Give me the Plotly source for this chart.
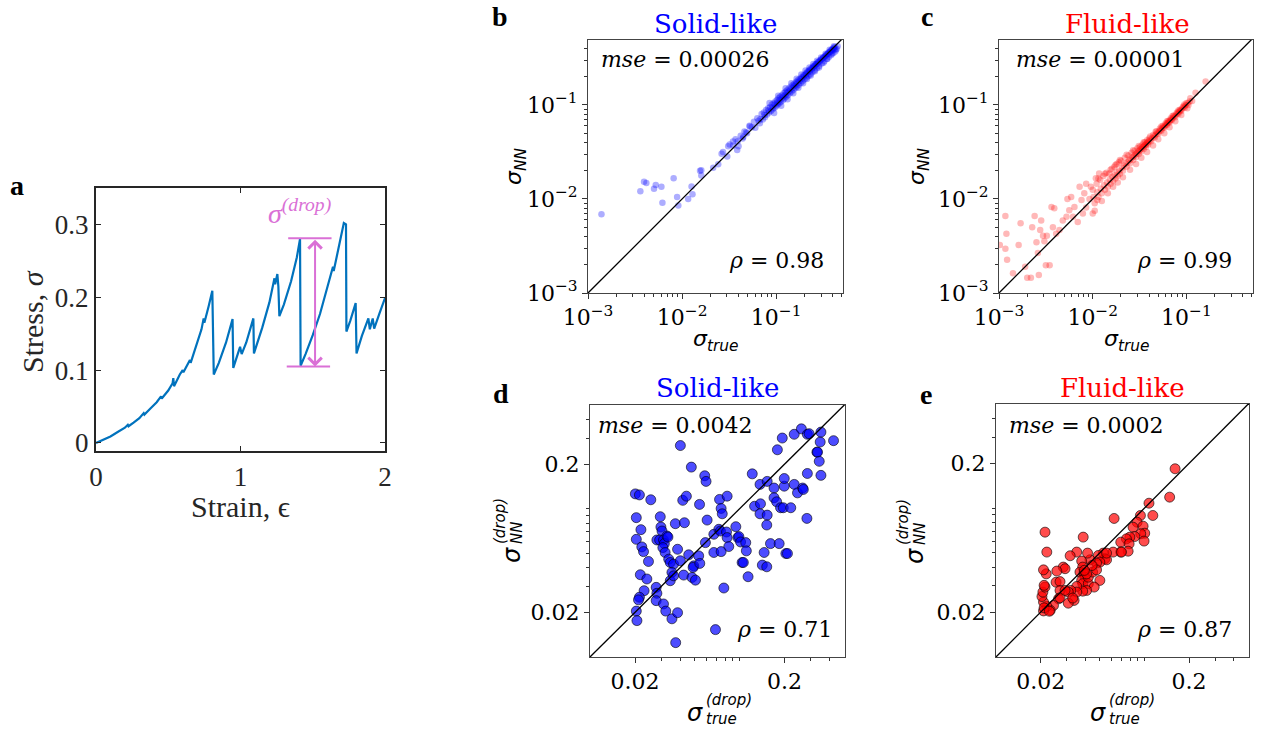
import plotly.graph_objects as go

W, H = 1264, 733

# ---------------- Panel a: stress-strain curve ----------------
strain = [0, 0.05, 0.10, 0.15, 0.20, 0.22, 0.225, 0.26, 0.30, 0.33, 0.335, 0.38, 0.42, 0.45, 0.455,
          0.50, 0.53, 0.535, 0.54, 0.58, 0.60, 0.605, 0.64, 0.65, 0.655, 0.70, 0.73, 0.745, 0.75,
          0.78, 0.805, 0.815, 0.85, 0.90, 0.945, 0.95, 0.975, 0.99, 0.997, 1.008, 1.04, 1.089,
          1.093, 1.15, 1.20, 1.235, 1.24, 1.255, 1.262, 1.269, 1.30, 1.35, 1.39, 1.412, 1.416,
          1.45, 1.50, 1.55, 1.60, 1.64, 1.645, 1.68, 1.715, 1.73, 1.733, 1.76, 1.797, 1.803,
          1.84, 1.885, 1.895, 1.915, 1.925, 1.96, 2.0]
stress = [0, 0.004, 0.009, 0.015, 0.021, 0.025, 0.023, 0.028, 0.034, 0.041, 0.039, 0.048, 0.056, 0.064, 0.061,
          0.072, 0.082, 0.089, 0.078, 0.094, 0.100, 0.097, 0.109, 0.114, 0.110, 0.137, 0.156, 0.171, 0.165,
          0.188, 0.209, 0.094, 0.110, 0.138, 0.170, 0.103, 0.118, 0.128, 0.132, 0.122, 0.138, 0.171,
          0.123, 0.158, 0.193, 0.226, 0.218, 0.232, 0.215, 0.174, 0.190, 0.222, 0.255, 0.280, 0.106,
          0.122, 0.148, 0.177, 0.212, 0.242, 0.236, 0.268, 0.302, 0.300, 0.153, 0.168, 0.192, 0.123,
          0.147, 0.171, 0.156, 0.171, 0.157, 0.177, 0.199]
drop_top = 0.281
drop_bottom = 0.105
drop_x = 1.516
a_xticks = [0, 1, 2]
a_yticks = [0, 0.1, 0.2, 0.3]
a_yticktext = ["0", "0.1", "0.2", "0.3"]

# ---------------- Panel b: solid-like sigma ----------------
b_true = [0.00139, 0.0036, 0.00394, 0.00417, 0.00503, 0.00525, 0.00603, 0.00618, 0.00813, 0.00885,
          0.00912, 0.0116, 0.0129, 0.0126, 0.0155, 0.016, 0.016, 0.0214, 0.0242, 0.0263, 0.0272,
          0.0302, 0.0309, 0.0347, 0.0385, 0.0398, 0.0447, 0.0479, 0.0525,
          0.032, 0.035, 0.037, 0.039, 0.042, 0.044, 0.046, 0.049,
          0.052, 0.055, 0.058, 0.060, 0.063, 0.065, 0.067, 0.070, 0.072, 0.074, 0.076, 0.078, 0.080,
          0.082, 0.084, 0.086, 0.088, 0.090, 0.092, 0.094, 0.096, 0.098, 0.100, 0.102, 0.104, 0.106,
          0.108, 0.110, 0.112, 0.115, 0.118, 0.120, 0.122, 0.125, 0.128, 0.130, 0.133, 0.136, 0.140,
          0.143, 0.146, 0.150, 0.153, 0.156, 0.160, 0.163, 0.166, 0.170, 0.174, 0.178, 0.182, 0.186,
          0.190, 0.195, 0.200, 0.205, 0.210, 0.215, 0.220, 0.225, 0.230, 0.236, 0.242, 0.248, 0.255,
          0.262, 0.270, 0.278, 0.286, 0.295, 0.305, 0.315, 0.325, 0.335, 0.345, 0.355, 0.365, 0.375,
          0.385, 0.395, 0.405, 0.415, 0.425, 0.440,
          0.068, 0.075, 0.083, 0.091, 0.097, 0.103, 0.109, 0.114, 0.119, 0.124, 0.129, 0.135, 0.141,
          0.148, 0.155, 0.162, 0.168, 0.176, 0.184, 0.192, 0.198, 0.207, 0.213, 0.222, 0.228, 0.239,
          0.245, 0.252, 0.259, 0.266, 0.274, 0.282, 0.290, 0.300, 0.310, 0.320, 0.330, 0.340, 0.350,
          0.360, 0.370, 0.380, 0.390, 0.400, 0.410, 0.420, 0.450,
          0.085, 0.095, 0.105, 0.113, 0.126, 0.132, 0.145, 0.152, 0.165, 0.172, 0.185, 0.193, 0.205,
          0.212, 0.226, 0.233, 0.248, 0.258, 0.272, 0.285, 0.300, 0.318, 0.335, 0.350, 0.370, 0.390,
          0.410, 0.430]
b_nn = [0.00687, 0.0121, 0.0152, 0.0148, 0.0128, 0.0141, 0.0135, 0.00912, 0.0166, 0.0105,
        0.00851, 0.0100, 0.0112, 0.0136, 0.0200, 0.0202, 0.0178, 0.0214, 0.0234, 0.0303, 0.0316,
        0.0282, 0.0363, 0.0407, 0.0331, 0.0363, 0.0457, 0.0513, 0.0589,
        0.038, 0.037, 0.043, 0.041, 0.047, 0.044, 0.052, 0.050,
        0.060, 0.058, 0.066, 0.057, 0.072, 0.068, 0.064, 0.080, 0.070, 0.083, 0.074, 0.088, 0.079,
        0.092, 0.083, 0.095, 0.086, 0.101, 0.090, 0.104, 0.093, 0.109, 0.097, 0.113, 0.101, 0.118,
        0.104, 0.122, 0.108, 0.127, 0.112, 0.133, 0.117, 0.138, 0.122, 0.142, 0.127, 0.149, 0.133,
        0.156, 0.139, 0.163, 0.145, 0.168, 0.151, 0.176, 0.157, 0.183, 0.164, 0.190, 0.171, 0.197,
        0.178, 0.207, 0.186, 0.216, 0.195, 0.226, 0.203, 0.236, 0.212, 0.245, 0.222, 0.257, 0.233,
        0.270, 0.246, 0.285, 0.259, 0.300, 0.275, 0.318, 0.292, 0.334, 0.308, 0.350, 0.325, 0.365,
        0.340, 0.378, 0.356, 0.390, 0.370, 0.395,
        0.071, 0.078, 0.087, 0.094, 0.101, 0.106, 0.113, 0.117, 0.123, 0.127, 0.133, 0.138, 0.146,
        0.151, 0.159, 0.165, 0.173, 0.179, 0.188, 0.196, 0.203, 0.210, 0.218, 0.226, 0.232, 0.241,
        0.250, 0.256, 0.262, 0.270, 0.276, 0.286, 0.292, 0.303, 0.311, 0.322, 0.329, 0.341, 0.348,
        0.360, 0.366, 0.378, 0.386, 0.395, 0.405, 0.412, 0.420,
        0.105, 0.082, 0.125, 0.098, 0.150, 0.115, 0.170, 0.133, 0.190, 0.152, 0.210, 0.170, 0.232,
        0.188, 0.250, 0.205, 0.272, 0.228, 0.295, 0.250, 0.320, 0.280, 0.350, 0.310, 0.385, 0.350,
        0.420, 0.385]

# ---------------- Panel c: fluid-like sigma ----------------
c_true = [0.00102, 0.00117, 0.0012, 0.00117, 0.00122, 0.00141, 0.00162, 0.0017, 0.0019, 0.0020,
          0.00219, 0.00226, 0.0024, 0.00251, 0.00266, 0.0026, 0.00275, 0.00282, 0.00295, 0.00305,
          0.00316, 0.00324, 0.00347, 0.00363, 0.00376, 0.00389, 0.00407, 0.00442, 0.00479, 0.00525,
          0.00537, 0.00562, 0.00589, 0.00617, 0.00638, 0.00692, 0.00724, 0.00759, 0.00785, 0.00813,
          0.00851, 0.00851, 0.00923, 0.00955, 0.0100, 0.0108, 0.0112, 0.0117,
          0.0100, 0.0105, 0.0110, 0.0115, 0.0120, 0.0125, 0.0130, 0.0135, 0.0140, 0.0145, 0.0150,
          0.0155, 0.0160, 0.0165, 0.0170, 0.0175, 0.0180, 0.0185, 0.0190, 0.0195, 0.0200, 0.0210,
          0.0220, 0.0230, 0.0240, 0.0250, 0.0260, 0.0270, 0.0280, 0.0290, 0.0300, 0.0310, 0.0320,
          0.0330, 0.0340, 0.0350, 0.0360, 0.0370, 0.0380, 0.0390, 0.0400, 0.0420, 0.0440, 0.0460,
          0.0480, 0.0500, 0.0520, 0.0540, 0.0560, 0.0580, 0.0600, 0.0620, 0.0640, 0.0660, 0.0680,
          0.0700, 0.0730, 0.0760, 0.0790, 0.0820, 0.0850, 0.0880, 0.0920, 0.0960, 0.1000, 0.1050,
          0.1100, 0.1150,
          0.0102, 0.0112, 0.0122, 0.0132, 0.0142, 0.0152, 0.0162, 0.0172, 0.0182, 0.0192, 0.0205,
          0.0215, 0.0225, 0.0235, 0.0245, 0.0255, 0.0265, 0.0275, 0.0285, 0.0295, 0.0305, 0.0315,
          0.0325, 0.0335, 0.0345, 0.0355, 0.0365, 0.0375, 0.0385, 0.0395, 0.0410, 0.0430, 0.0450,
          0.0470, 0.0490, 0.0510, 0.0530, 0.0550, 0.0570, 0.0590, 0.0610, 0.0630, 0.0650, 0.0670,
          0.0690, 0.0720, 0.0750, 0.0780, 0.0810, 0.0840, 0.0870, 0.0900, 0.0940, 0.0980, 0.1030,
          0.1080,
          0.0105, 0.0115, 0.0125, 0.0135, 0.0145, 0.0155, 0.0165, 0.0175, 0.0185, 0.0195, 0.0210,
          0.0230, 0.0250, 0.0270, 0.0290, 0.0310, 0.0330, 0.0350, 0.0380, 0.0410, 0.0440, 0.0470,
          0.0500, 0.0540, 0.0580, 0.0620, 0.0660, 0.0710, 0.0760, 0.0820, 0.0880, 0.0950, 0.1020,
          0.1250, 0.1600]
c_nn = [0.00324, 0.0066, 0.00427, 0.00295, 0.00226, 0.00162, 0.00324, 0.0055, 0.0019, 0.00145,
        0.00145, 0.0050, 0.0066, 0.00347, 0.00155, 0.00266, 0.00468, 0.00589, 0.00407, 0.00355,
        0.00197, 0.00407, 0.00197, 0.00822, 0.0050, 0.00794, 0.00427, 0.00468, 0.00589, 0.00646,
        0.0100, 0.00759, 0.0105, 0.00646, 0.00822, 0.00569, 0.0135, 0.00977, 0.0070, 0.0115,
        0.0145, 0.00813, 0.0100, 0.0135, 0.0070, 0.0166, 0.00977, 0.0186,
        0.0125, 0.0090, 0.0145, 0.0105, 0.0160, 0.0115, 0.0175, 0.0125, 0.0190, 0.0135, 0.0185,
        0.0145, 0.0210, 0.0155, 0.0220, 0.0165, 0.0235, 0.0175, 0.0245, 0.0185, 0.0255, 0.0200,
        0.0275, 0.0220, 0.0290, 0.0240, 0.0310, 0.0260, 0.0325, 0.0280, 0.0345, 0.0300, 0.0360,
        0.0320, 0.0380, 0.0340, 0.0400, 0.0360, 0.0420, 0.0380, 0.0440, 0.0410, 0.0480, 0.0450,
        0.0520, 0.0490, 0.0560, 0.0530, 0.0600, 0.0570, 0.0640, 0.0610, 0.0680, 0.0650, 0.0720,
        0.0690, 0.0770, 0.0740, 0.0830, 0.0800, 0.0890, 0.0860, 0.0960, 0.0930, 0.1050, 0.1000,
        0.1180, 0.1100,
        0.0105, 0.0118, 0.0128, 0.0140, 0.0150, 0.0160, 0.0172, 0.0180, 0.0192, 0.0200, 0.0215,
        0.0226, 0.0236, 0.0246, 0.0257, 0.0266, 0.0277, 0.0287, 0.0297, 0.0307, 0.0317, 0.0327,
        0.0338, 0.0348, 0.0358, 0.0368, 0.0378, 0.0388, 0.0398, 0.0408, 0.0423, 0.0443, 0.0463,
        0.0483, 0.0503, 0.0523, 0.0543, 0.0563, 0.0583, 0.0603, 0.0623, 0.0643, 0.0663, 0.0683,
        0.0703, 0.0733, 0.0763, 0.0793, 0.0823, 0.0853, 0.0883, 0.0913, 0.0953, 0.0993, 0.1040,
        0.1090,
        0.0075, 0.0165, 0.0095, 0.0185, 0.0115, 0.0205, 0.0135, 0.0230, 0.0150, 0.0260, 0.0170,
        0.0295, 0.0205, 0.0330, 0.0235, 0.0365, 0.0275, 0.0400, 0.0315, 0.0460, 0.0370, 0.0520,
        0.0430, 0.0590, 0.0500, 0.0670, 0.0580, 0.0760, 0.0670, 0.0870, 0.0780, 0.1010, 0.0920,
        0.1350, 0.1770]

# ---------------- Panel d: solid-like drops ----------------
d_true = [0.0402, 0.0476, 0.0201, 0.0214, 0.0255, 0.0204, 0.0219, 0.0204, 0.0222, 0.0228,
          0.0246, 0.0217, 0.0240, 0.0230, 0.0214, 0.0211, 0.0204, 0.0206, 0.0277, 0.0280,
          0.0277, 0.0310, 0.0321, 0.0353, 0.0385, 0.0374, 0.0295, 0.0298, 0.0303, 0.0280,
          0.0292, 0.0310, 0.0327, 0.0314, 0.0307, 0.0332, 0.0318, 0.0336, 0.0344, 0.0362,
          0.0353, 0.0344, 0.0372, 0.0428, 0.0385, 0.0402, 0.0362, 0.0423, 0.0417, 0.0441,
          0.0457, 0.0494, 0.0489, 0.0481, 0.0507, 0.0533, 0.0542, 0.0540, 0.0607, 0.0591,
          0.0673, 0.0673, 0.0585, 0.0597, 0.0735, 0.0753, 0.0766, 0.0826, 0.0727, 0.0745,
          0.0818, 0.0826, 0.0847, 0.0753, 0.0785, 0.0690, 0.0944, 0.0975, 0.0990, 0.1016,
          0.110, 0.111, 0.104, 0.106, 0.114, 0.1216, 0.126, 0.138, 0.137, 0.153,
          0.152, 0.146, 0.142, 0.152, 0.161, 0.137, 0.153, 0.170, 0.184, 0.170,
          0.177, 0.188, 0.196, 0.199, 0.220, 0.199, 0.204, 0.209, 0.179, 0.193,
          0.232, 0.259, 0.284, 0.292, 0.329, 0.332, 0.346, 0.350, 0.341, 0.350,
          0.284, 0.232, 0.244, 0.264, 0.267, 0.282, 0.425]
d_nn = [0.267, 0.191, 0.126, 0.124, 0.115, 0.0871, 0.0723, 0.0622, 0.0553, 0.0514,
        0.0441, 0.0359, 0.0336, 0.0280, 0.0253, 0.0243, 0.0204, 0.0176, 0.0295, 0.0269,
        0.0240, 0.0228, 0.0204, 0.0181, 0.0199, 0.0125, 0.0884, 0.0753, 0.0708, 0.0616,
        0.0616, 0.0616, 0.0655, 0.0582, 0.0547, 0.0645, 0.0507, 0.0457, 0.0434, 0.0423,
        0.0372, 0.0327, 0.0793, 0.0805, 0.0533, 0.0446, 0.0353, 0.0357, 0.114, 0.1216,
        0.0489, 0.0412, 0.0402, 0.0344, 0.0330, 0.0481, 0.0428, 0.107, 0.0839, 0.0591,
        0.0673, 0.0507, 0.167, 0.153, 0.1156, 0.1005, 0.0925, 0.1216, 0.0727, 0.0708,
        0.0697, 0.0639, 0.0556, 0.0514, 0.0292, 0.0153, 0.0757, 0.0639, 0.0649, 0.0597,
        0.0591, 0.0520, 0.0434, 0.0434, 0.0348, 0.172, 0.104, 0.108, 0.0925, 0.0906,
        0.0777, 0.0507, 0.0417, 0.0406, 0.0582, 0.146, 0.153, 0.138, 0.0582, 0.1186,
        0.1114, 0.1016, 0.1016, 0.142, 0.1016, 0.160, 0.0499, 0.0499, 0.250, 0.300,
        0.318, 0.346, 0.318, 0.321, 0.241, 0.241, 0.282, 0.329, 0.209, 0.168,
        0.173, 0.146, 0.128, 0.138, 0.135, 0.0861, 0.288]

# ---------------- Panel e: fluid-like drops ----------------
e_true = [0.161, 0.148, 0.1074, 0.114, 0.094, 0.0625, 0.0893, 0.0839, 0.098, 0.1005,
          0.0945, 0.0995, 0.0861, 0.0798, 0.0757, 0.0693, 0.0789, 0.0777, 0.0693, 0.0616,
          0.0528, 0.0542, 0.0556, 0.0489, 0.0501, 0.0476, 0.0430, 0.0387, 0.0414, 0.0350,
          0.0316, 0.0378, 0.0384, 0.0368, 0.0392, 0.0398, 0.0378, 0.0384, 0.0419, 0.0419,
          0.0448, 0.0476, 0.0501, 0.0459, 0.0408, 0.0384, 0.0350, 0.0350, 0.0319, 0.0307,
          0.0336, 0.0307, 0.0329, 0.0284, 0.0292, 0.0257, 0.0254, 0.0270, 0.0270, 0.0264,
          0.0270, 0.0244, 0.0232, 0.0220, 0.0209, 0.0204, 0.0207, 0.0214, 0.0211, 0.0218,
          0.0209, 0.0220, 0.0214, 0.0209, 0.0211, 0.0229, 0.0444, 0.0408, 0.0556, 0.0701,
          0.0394, 0.0292]
e_nn = [0.184, 0.1186, 0.108, 0.0893, 0.0893, 0.0853, 0.0805, 0.0745, 0.0757, 0.0679,
        0.0673, 0.0601, 0.0645, 0.0639, 0.0622, 0.0591, 0.0576, 0.0514, 0.0507, 0.0507,
        0.0499, 0.0457, 0.0450, 0.0481, 0.0434, 0.0428, 0.0450, 0.0639, 0.0499, 0.0507,
        0.0479, 0.0441, 0.0402, 0.0372, 0.0366, 0.0344, 0.0327, 0.0311, 0.0311, 0.0344,
        0.0372, 0.0385, 0.0327, 0.0295, 0.0280, 0.0277, 0.0298, 0.0273, 0.0280, 0.0273,
        0.0240, 0.0230, 0.0249, 0.0402, 0.0392, 0.0378, 0.0318, 0.0321, 0.0280, 0.0246,
        0.0250, 0.0222, 0.0206, 0.0219, 0.0234, 0.0255, 0.0273, 0.0295, 0.0303, 0.0362,
        0.0385, 0.0507, 0.0690, 0.0204, 0.0214, 0.0203, 0.0412, 0.0362, 0.0499, 0.0507,
        0.0382, 0.0280]

diag_bc = [0.001, 0.52]
diag_de = [0.01, 0.52]

log_major_bc = [0.001, 0.01, 0.1]
log_major_bc_text = ["10<sup>−3</sup>", "10<sup>−2</sup>", "10<sup>−1</sup>"]
log_minor_bc = [0.002, 0.003, 0.004, 0.005, 0.006, 0.007, 0.008, 0.009,
                0.02, 0.03, 0.04, 0.05, 0.06, 0.07, 0.08, 0.09, 0.2, 0.3, 0.4, 0.5]
log_major_de = [0.02, 0.2]
log_major_de_text = ["0.02", "0.2"]
log_minor_de = [0.03, 0.04, 0.05, 0.06, 0.07, 0.08, 0.09, 0.1, 0.3, 0.4]

BLUE = "#0000FF"
RED = "#FF0000"
ORCHID = "#DA70D6"
SERIF = "DejaVu Serif"
SANS = "DejaVu Sans"
CM = "Liberation Serif"


def fx(p):
    return p / W


def fy(p):
    return 1 - p / H


fig = go.Figure()

# panel a
fig.add_trace(go.Scatter(x=strain, y=stress, mode="lines", line=dict(color="#0072BD", width=2.2),
                         xaxis="x", yaxis="y", showlegend=False, hoverinfo="skip"))
# panel b
fig.add_trace(go.Scatter(x=b_true, y=b_nn, mode="markers",
                         marker=dict(color=BLUE, size=6.5, opacity=0.32, line=dict(width=0)),
                         xaxis="x2", yaxis="y2", showlegend=False))
fig.add_trace(go.Scatter(x=diag_bc, y=diag_bc, mode="lines", line=dict(color="black", width=1.3),
                         xaxis="x2", yaxis="y2", showlegend=False))
# panel c
fig.add_trace(go.Scatter(x=c_true, y=c_nn, mode="markers",
                         marker=dict(color=RED, size=6.5, opacity=0.28, line=dict(width=0)),
                         xaxis="x3", yaxis="y3", showlegend=False))
fig.add_trace(go.Scatter(x=diag_bc, y=diag_bc, mode="lines", line=dict(color="black", width=1.3),
                         xaxis="x3", yaxis="y3", showlegend=False))
# panel d
fig.add_trace(go.Scatter(x=d_true, y=d_nn, mode="markers",
                         marker=dict(color="rgba(0,0,255,0.7)", size=10,
                                     line=dict(color="rgba(0,0,0,0.75)", width=0.8)),
                         xaxis="x4", yaxis="y4", showlegend=False))
fig.add_trace(go.Scatter(x=diag_de, y=diag_de, mode="lines", line=dict(color="black", width=1.3),
                         xaxis="x4", yaxis="y4", showlegend=False))
# panel e
fig.add_trace(go.Scatter(x=e_true, y=e_nn, mode="markers",
                         marker=dict(color="rgba(255,0,0,0.7)", size=10,
                                     line=dict(color="rgba(0,0,0,0.75)", width=0.8)),
                         xaxis="x5", yaxis="y5", showlegend=False))
fig.add_trace(go.Scatter(x=diag_de, y=diag_de, mode="lines", line=dict(color="black", width=1.3),
                         xaxis="x5", yaxis="y5", showlegend=False))

tickfont_mpl = dict(family=SERIF, size=22, color="black")


def log_axis(dom, anchor, rng, major, major_text, minor):
    return dict(domain=dom, anchor=anchor, type="log", range=rng, automargin=False,
                tickmode="array", tickvals=major, ticktext=major_text,
                ticks="outside", ticklen=5, tickwidth=1, tickcolor="#333",
                showline=True, linecolor="#444", linewidth=1, mirror=True,
                showgrid=False, zeroline=False, tickfont=tickfont_mpl,
                minor=dict(tickmode="array", tickvals=minor, ticks="outside", ticklen=3,
                           tickwidth=0.8, tickcolor="#333", showgrid=False))


a_common = dict(ticks="inside", ticklen=5, tickwidth=1.2, tickcolor="#262626", automargin=False,
                showline=True, linecolor="#262626", linewidth=2.2, mirror="ticks",
                showgrid=False, zeroline=False, tickfont=dict(family=CM, size=27, color="#262626"))

layout = dict(
    width=W, height=H, margin=dict(l=0, r=0, t=0, b=0, pad=0), autosize=False,
    paper_bgcolor="white", plot_bgcolor="white", showlegend=False,
    xaxis=dict(domain=[fx(96), fx(385)], anchor="y", range=[0, 2],
               tickmode="array", tickvals=a_xticks, ticktext=[str(v) for v in a_xticks], **a_common),
    yaxis=dict(domain=[fy(451), fy(188)], anchor="x", range=[-0.011, 0.35],
               tickmode="array", tickvals=a_yticks, ticktext=a_yticktext, **a_common),
    xaxis2=log_axis([fx(588), fx(843)], "y2", [-3.0, -0.29], log_major_bc, log_major_bc_text, log_minor_bc),
    yaxis2=log_axis([fy(293), fy(40)], "x2", [-3.0, -0.31], log_major_bc, log_major_bc_text, log_minor_bc),
    xaxis3=log_axis([fx(999), fx(1253)], "y3", [-3.0, -0.29], log_major_bc, log_major_bc_text, log_minor_bc),
    yaxis3=log_axis([fy(293), fy(40)], "x3", [-3.0, -0.31], log_major_bc, log_major_bc_text, log_minor_bc),
    xaxis4=log_axis([fx(590), fx(845)], "y4", [-2.0, -0.295], log_major_de, log_major_de_text, log_minor_de),
    yaxis4=log_axis([fy(657), fy(405)], "x4", [-2.0, -0.3], log_major_de, log_major_de_text, log_minor_de),
    xaxis5=log_axis([fx(996), fx(1249)], "y5", [-2.0, -0.295], log_major_de, log_major_de_text, log_minor_de),
    yaxis5=log_axis([fy(657), fy(404)], "x5", [-2.0, -0.3], log_major_de, log_major_de_text, log_minor_de),
)
fig.update_layout(**layout)

ann = []


def text(x, y, s, size, family=SERIF, color="black", xanchor="center", yanchor="middle", angle=0):
    ann.append(dict(x=fx(x), y=fy(y), xref="paper", yref="paper", text=s, showarrow=False,
                    font=dict(family=family, size=size, color=color),
                    xanchor=xanchor, yanchor=yanchor, textangle=angle))


# panel letters
text(17, 186, "<b>a</b>", 28, family="Liberation Serif")
text(500, 16, "<b>b</b>", 28, family="Liberation Serif")
text(927, 17, "<b>c</b>", 28, family="Liberation Serif")
text(501, 393, "<b>d</b>", 28, family="Liberation Serif")
text(926, 394, "<b>e</b>", 28, family="Liberation Serif")

# titles
text(715, 24, "Solid-like", 26, color=BLUE)
text(1127, 24, "Fluid-like", 26, color=RED)
text(717, 388, "Solid-like", 26, color=BLUE)
text(1122, 388, "Fluid-like", 26, color=RED)

# metrics
text(599, 60, "<i>mse</i> = 0.00026", 22, xanchor="left")
text(826, 260, "<i>ρ</i> = 0.98", 22, xanchor="right")
text(1014, 60, "<i>mse</i> = 0.00001", 22, xanchor="left")
text(1234, 260, "<i>ρ</i> = 0.99", 22, xanchor="right")
text(596, 426, "<i>mse</i> = 0.0042", 22, xanchor="left")
text(834, 629, "<i>ρ</i> = 0.71", 22, xanchor="right")
text(1007, 426, "<i>mse</i> = 0.0002", 22, xanchor="left")
text(1234, 629, "<i>ρ</i> = 0.87", 22, xanchor="right")

# axis titles b, c
text(716, 340, "<i>σ<sub>true</sub></i>", 22, family=SANS)
text(1127, 340, "<i>σ<sub>true</sub></i>", 22, family=SANS)
text(515, 167, "<i>σ<sub>NN</sub></i>", 22, family=SANS, angle=-90)
text(918, 167, "<i>σ<sub>NN</sub></i>", 22, family=SANS, angle=-90)

# axis titles d, e (stacked super/subscripts)
for (sx, sy) in [(695, 713), (1098, 713)]:
    text(sx, sy, "<i>σ</i>", 24, family=SANS)
    text(sx + 9, sy - 13, "<i>(drop)</i>", 15, family=SANS, xanchor="left")
    text(sx + 9, sy + 6, "<i>true</i>", 15, family=SANS, xanchor="left")
for (sx, sy) in [(512, 555), (915, 556)]:
    text(sx, sy, "<i>σ</i>", 24, family=SANS, angle=-90)
    text(sx - 12, sy - 9, "<i>(drop)</i>", 15, family=SANS, yanchor="bottom", angle=-90)
    text(sx + 5, sy - 9, "<i>NN</i>", 15, family=SANS, yanchor="bottom", angle=-90)

# panel a axis titles
text(240, 506, "Strain, ϵ", 30, family=CM, color="#262626")
text(32, 322, "Stress, <i>σ</i>", 30, family=CM, color="#262626", angle=-90)

# panel a drop annotation
ann.append(dict(x=1.41, y=0.318, xref="x", yref="y", text="<i>σ</i><sup><i>(drop)</i></sup>",
                showarrow=False, font=dict(family=CM, size=28, color=ORCHID)))
ann.append(dict(x=drop_x, y=drop_bottom, ax=drop_x, ay=drop_top, xref="x", yref="y",
                axref="x", ayref="y", text="", showarrow=True, arrowhead=4, startarrowhead=4,
                arrowside="end+start", arrowsize=1.3, arrowwidth=2, arrowcolor=ORCHID))

fig.update_layout(annotations=ann)

fig.add_shape(type="line", xref="x", yref="y", x0=1.33, x1=1.63, y0=drop_top, y1=drop_top,
              line=dict(color=ORCHID, width=2.2))
fig.add_shape(type="line", xref="x", yref="y", x0=1.32, x1=1.62, y0=drop_bottom, y1=drop_bottom,
              line=dict(color=ORCHID, width=2.2))

fig.write_html("out.html", config={"displayModeBar": False},
               post_script="document.body.style.margin='0';document.body.style.overflow='hidden';")
